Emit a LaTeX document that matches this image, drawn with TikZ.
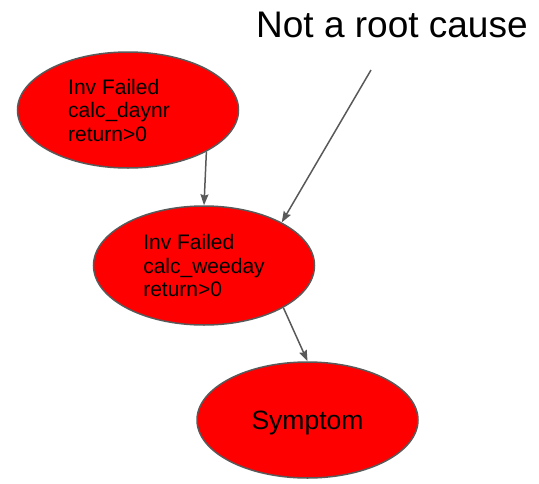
\documentclass[tikz,border=0pt]{standalone}
\usepackage{fontspec}
\setmainfont{Liberation Sans}
\usetikzlibrary{shapes.geometric}
\usetikzlibrary{arrows.meta}

\definecolor{edgegray}{HTML}{595959}

\begin{document}
\begin{tikzpicture}[x=1pt, y=-1pt,
 cause/.style={ellipse, draw=edgegray, line width=1.5pt, fill=red, inner sep=0,
   minimum width=221, minimum height=116, align=left,
   font=\fontsize{21}{23.5}\selectfont},
 link/.style={draw=edgegray, line width=1.5pt, ->, >={Stealth[length=11pt,width=8pt,inset=1.5pt]}}]
\useasboundingbox (0,0) rectangle (539,483);
\node[cause] (daynr) at (128,110) {Inv Failed\\calc\_daynr\rule{18pt}{0pt}\\return>0};
\node[cause, minimum height=119] (weeday) at (204,265.5) {Inv Failed\\calc\_weeday\\return>0};
\node[cause, text depth=0pt, font=\fontsize{26.5}{30}\selectfont] (symptom) at (307.5,420) {Symptom};
\node[anchor=base west, inner sep=0, font=\fontsize{37}{40}\selectfont] (note) at (256,37) {Not a root cause};
\coordinate (tail) at (371,70);
\draw[link] (daynr.-28) -- (weeday.north);
\draw[link] (tail) -- (weeday.29);
\draw[link] (weeday.-28) -- (symptom.north);
\end{tikzpicture}
\end{document}
